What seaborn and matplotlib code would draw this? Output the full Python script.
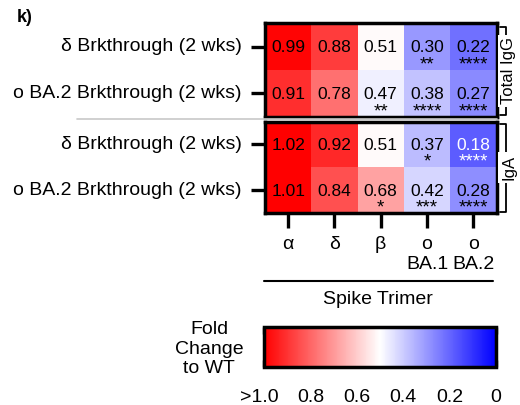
import numpy as np
import pandas as pd
import matplotlib
matplotlib.use("Agg")
import matplotlib.pyplot as plt
import matplotlib.transforms as mtransforms
from matplotlib.lines import Line2D
import seaborn as sns

sns.set_theme(style="white")
plt.rcParams["font.family"] = ["Liberation Sans", "DejaVu Sans"]
plt.rcParams["text.color"] = "black"
plt.rcParams["xtick.color"] = "black"
plt.rcParams["ytick.color"] = "black"

# Data
antigens = ["α", "δ", "β", "o\nBA.1", "o\nBA.2"]
cohorts = ["δ Brkthrough (2 wks)", "o BA.2 Brkthrough (2 wks)"]
igg_fold = [[0.99, 0.88, 0.51, 0.30, 0.22],
            [0.91, 0.78, 0.47, 0.38, 0.27]]
iga_fold = [[1.02, 0.92, 0.51, 0.37, 0.18],
            [1.01, 0.84, 0.68, 0.42, 0.28]]
igg_sig = [["", "", "", "**", "****"],
           ["", "", "**", "****", "****"]]
iga_sig = [["", "", "", "*", "****"],
           ["", "", "*", "***", "****"]]
cbar_ticks = [1.0, 0.8, 0.6, 0.4, 0.2, 0.0]
cbar_labels = [">1.0", "0.8", "0.6", "0.4", "0.2", "0"]

W, H = 520, 405
fig = plt.figure(figsize=(W / 100, H / 100), dpi=100)


def fx(px):
    return px / W


def fy(py):
    return 1 - py / H


def rect(x0, y0, x1, y1):
    return [fx(x0), fy(y1), fx(x1) - fx(x0), fy(y0) - fy(y1)]


# separator between the two isotype blocks
fig.add_artist(Line2D([fx(77), fx(497)], [fy(119)] * 2, color="#c8c8c8", lw=1.2))

ax_igg = fig.add_axes(rect(265, 23.3, 496.5, 116.5))
ax_iga = fig.add_axes(rect(265, 121.5, 496.5, 213))
cax = fig.add_axes(rect(264, 326.7, 496, 367))

SPINE_W = 2.5

blocks = [(ax_igg, igg_fold, igg_sig), (ax_iga, iga_fold, iga_sig)]
for i, (ax, vals, sig) in enumerate(blocks):
    df = pd.DataFrame(vals, index=cohorts, columns=antigens)
    sns.heatmap(df, ax=ax, cmap="bwr", vmin=0, vmax=1,
                cbar=(i == 0), cbar_ax=cax if i == 0 else None,
                cbar_kws={"orientation": "horizontal"} if i == 0 else {},
                linewidths=0)
    for s in ax.spines.values():
        s.set_visible(True)
        s.set_linewidth(SPINE_W)
        s.set_color("black")
    ax.set_xlabel("")
    ax.set_ylabel("")
    ax.set_yticks([0.5, 1.5])
    ax.set_yticklabels(cohorts, rotation=0, fontsize=14, color="black")
    ax.tick_params(axis="y", left=True, length=10, width=2.4, pad=7, color="black")
    if i == 0:
        ax.tick_params(axis="x", bottom=False, labelbottom=False)
    else:
        ax.set_xticks(np.arange(len(antigens)) + 0.5)
        ax.set_xticklabels(antigens, rotation=0, fontsize=14, color="black",
                           linespacing=1.2)
        ax.tick_params(axis="x", bottom=True, length=10.5, width=2.4, pad=6,
                       color="black")
    for r in range(len(vals)):
        for c in range(len(vals[r])):
            v = vals[r][c]
            col = "white" if v < 0.2 else "black"
            ax.text(c + 0.5, r + 0.52, f"{v:.2f}", ha="center", va="center",
                    fontsize=12.5, color=col)
            if sig[r][c]:
                ax.text(c + 0.5, r + 0.99, sig[r][c], ha="center", va="baseline",
                        fontsize=13.5, color=col)

# colour bar
cbar = ax_igg.collections[0].colorbar
cbar.outline.set_linewidth(SPINE_W)
cbar.outline.set_edgecolor("black")
cax.invert_xaxis()
cax.set_xticks(cbar_ticks)
cax.set_xticklabels(cbar_labels, fontsize=14, color="black")
cax.tick_params(axis="x", direction="in", top=True, bottom=True, length=5,
                width=2.4, pad=15.5, color="black")
first = cax.get_xticklabels()[0]
first.set_transform(first.get_transform() +
                    mtransforms.ScaledTranslation(-5 / 100, 0, fig.dpi_scale_trans))
fig.text(fx(209), fy(349), "Fold\nChange\nto WT", ha="center", va="center",
         fontsize=14, linespacing=1.2, multialignment="center")

# x group label
fig.add_artist(Line2D([fx(264), fx(493)], [fy(281)] * 2, color="black", lw=1.5))
fig.text(fx(378), fy(300), "Spike Trimer", ha="center", va="center", fontsize=14)


# brackets for the isotype labels
def bracket(y0, y1, label, x=505.5, x_in=500):
    xs = [fx(x_in), fx(x), fx(x), fx(x_in)]
    ys = [fy(y0), fy(y0), fy(y1), fy(y1)]
    fig.add_artist(Line2D(xs, ys, color="black", lw=1.3))
    fig.text(fx(508.5), fy((y0 + y1) / 2), label, rotation=90, ha="center",
             va="center", fontsize=12,
             bbox=dict(facecolor="white", edgecolor="none", pad=2))


bracket(26.7, 115, "Total IgG")
bracket(124, 211.7, "IgA")

fig.text(fx(17), fy(17.5), "k)", ha="left", va="center", fontsize=13,
         fontweight="bold")

fig.savefig("out.png", dpi=100)
